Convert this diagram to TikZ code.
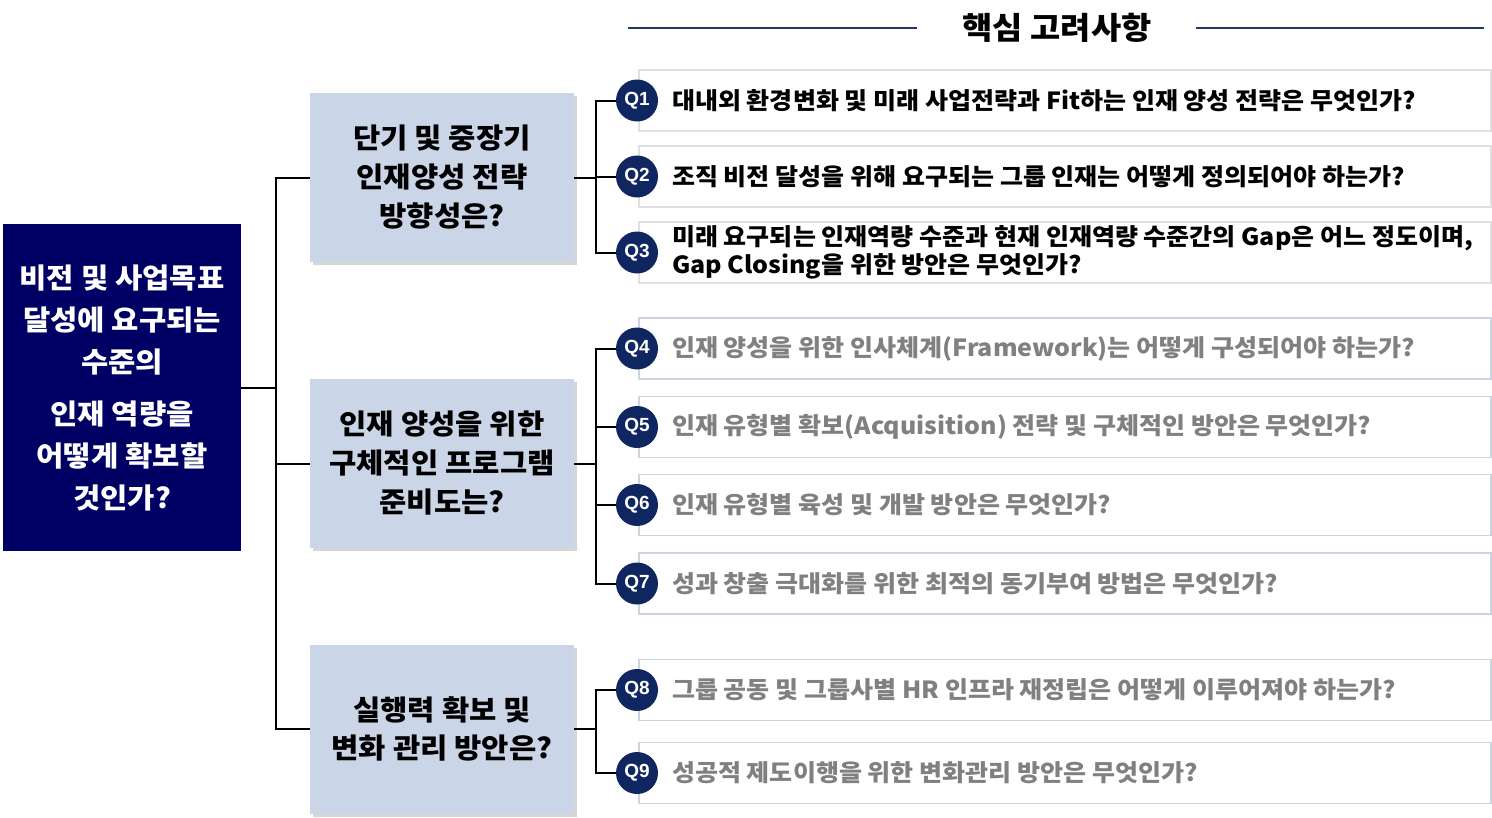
\documentclass[tikz,border=0pt]{standalone}
\usepackage{fontspec}
\setmainfont{Noto Sans CJK KR}[FakeStretch=1.06]
\newfontfamily\qfont{Liberation Sans}
\usetikzlibrary{shadows}
\definecolor{navyL}{RGB}{0,0,100}
\definecolor{navyC}{RGB}{16,38,96}
\definecolor{midfill}{RGB}{203,213,232}
\definecolor{shadowc}{RGB}{214,214,214}
\definecolor{titleln}{RGB}{31,56,100}
\definecolor{graytxt}{RGB}{128,128,128}
\definecolor{qbordA}{RGB}{224,224,224}
\definecolor{qbordB}{RGB}{204,212,224}
\tikzset{
  conn/.style={draw=black, line width=2pt},
  midbox/.style={fill=midfill, minimum width=264pt, minimum height=169pt, inner sep=0pt,
    drop shadow={shadow xshift=3pt, shadow yshift=-3pt, fill=shadowc, opacity=1},
    align=center, font=\bfseries\fontsize{28}{39}\selectfont},
  qbox/.style={draw=#1, line width=1.6pt, fill=white, minimum width=852pt, minimum height=61pt, inner sep=0pt, anchor=west},
  qcirc/.style={circle, fill=navyC, minimum size=42pt, inner sep=0pt, text=white, font=\qfont\bfseries\fontsize{19}{19}\selectfont},
  qtext/.style={anchor=west, inner sep=0pt, align=left, text=#1, font=\bfseries\fontsize{23.6}{28}\selectfont},
}
\begin{document}
\begin{tikzpicture}[x=1pt,y=-1pt]
\useasboundingbox (0,0) rectangle (1492,817);
% title
\node[inner sep=0pt, font=\bfseries\fontsize{31}{31}\selectfont] (title) at (1057,28) {핵심 고려사항};
\coordinate (tlA) at (628,28); \coordinate (tlB) at (917,28);
\coordinate (trA) at (1196,28); \coordinate (trB) at (1484,28);
\draw[titleln, line width=2pt] (tlA) -- (tlB);
\draw[titleln, line width=2pt] (trA) -- (trB);
% left box
\node[fill=navyL, minimum width=238pt, minimum height=327pt, inner sep=0pt, text=white,
  align=center, font=\bfseries\fontsize{28}{42}\selectfont] (L) at (122,387.5)
  {비전 및 사업목표\\달성에 요구되는\\수준의\\[10pt]인재 역량을\\어떻게 확보할\\것인가?};
% middle boxes
\node[midbox] (B1) at (442,177.5) {단기 및 중장기\\인재양성 전략\\방향성은?};
\node[midbox] (B2) at (442,463.5) {인재 양성을 위한\\구체적인 프로그램\\준비도는?};
\node[midbox, font=\bfseries\fontsize{28}{38}\selectfont] (B3) at (442,729) {실행력 확보 및\\변화 관리 방안은?};
% trunk
\coordinate (tk) at (276,0);
\draw[conn] (L.east) -- (L.east -| tk);
\draw[conn] (B1.west) -- (B1.west -| tk) -- (B3.west -| tk) -- (B3.west);
\draw[conn] (B2.west) -- (B2.west -| tk);
% Q boxes
\node[qbox=qbordA] (Q1) at (638,100.5) {};
\node[qbox=qbordA] (Q2) at (638,176.5) {};
\node[qbox=qbordA] (Q3) at (638,252.5) {};
\node[qbox=qbordB] (Q4) at (638,348.5) {};
\node[qbox=qbordB] (Q5) at (638,427) {};
\node[qbox=qbordB] (Q6) at (638,505) {};
\node[qbox=qbordB] (Q7) at (638,583.5) {};
\node[qbox=qbordB] (Q8) at (638,690) {};
\node[qbox=qbordB] (Q9) at (638,773) {};
% circles
\node[qcirc] (C1) at (637,100.5) {Q1};
\node[qcirc] (C2) at (637,176.5) {Q2};
\node[qcirc] (C3) at (637,252.5) {Q3};
\node[qcirc] (C4) at (637,348.5) {Q4};
\node[qcirc] (C5) at (637,427) {Q5};
\node[qcirc] (C6) at (637,505) {Q6};
\node[qcirc] (C7) at (637,583.5) {Q7};
\node[qcirc] (C8) at (637,690) {Q8};
\node[qcirc] (C9) at (637,773) {Q9};
% right connectors
\coordinate (rk) at (596,0);
\draw[conn] (B1.east) -- (B1.east -| rk);
\draw[conn] (C1.west) -- (C1.west -| rk) -- (C3.west -| rk) -- (C3.west);
\draw[conn] (C2.west) -- (C2.west -| rk);
\draw[conn] (B2.east) -- (B2.east -| rk);
\draw[conn] (C4.west) -- (C4.west -| rk) -- (C7.west -| rk) -- (C7.west);
\draw[conn] (C5.west) -- (C5.west -| rk);
\draw[conn] (C6.west) -- (C6.west -| rk);
\draw[conn] (B3.east) -- (B3.east -| rk);
\draw[conn] (C8.west) -- (C8.west -| rk) -- (C9.west -| rk) -- (C9.west);
% texts
\node[qtext=black] (T1) at (672,100.5) {대내외 환경변화 및 미래 사업전략과 Fit하는 인재 양성 전략은 무엇인가?};
\node[qtext=black] (T2) at (672,176.5) {조직 비전 달성을 위해 요구되는 그룹 인재는 어떻게 정의되어야 하는가?};
\node[qtext=black] (T3) at (672,252.5) {미래 요구되는 인재역량 수준과 현재 인재역량 수준간의 Gap은 어느 정도이며,\\Gap Closing을 위한 방안은 무엇인가?};
\node[qtext=graytxt] (T4) at (672,348.5) {인재 양성을 위한 인사체계(Framework)는 어떻게 구성되어야 하는가?};
\node[qtext=graytxt] (T5) at (672,427) {인재 유형별 확보(Acquisition) 전략 및 구체적인 방안은 무엇인가?};
\node[qtext=graytxt] (T6) at (672,505) {인재 유형별 육성 및 개발 방안은 무엇인가?};
\node[qtext=graytxt] (T7) at (672,583.5) {성과 창출 극대화를 위한 최적의 동기부여 방법은 무엇인가?};
\node[qtext=graytxt] (T8) at (672,690) {그룹 공동 및 그룹사별 HR 인프라 재정립은 어떻게 이루어져야 하는가?};
\node[qtext=graytxt] (T9) at (672,773) {성공적 제도이행을 위한 변화관리 방안은 무엇인가?};
\end{tikzpicture}
\end{document}
